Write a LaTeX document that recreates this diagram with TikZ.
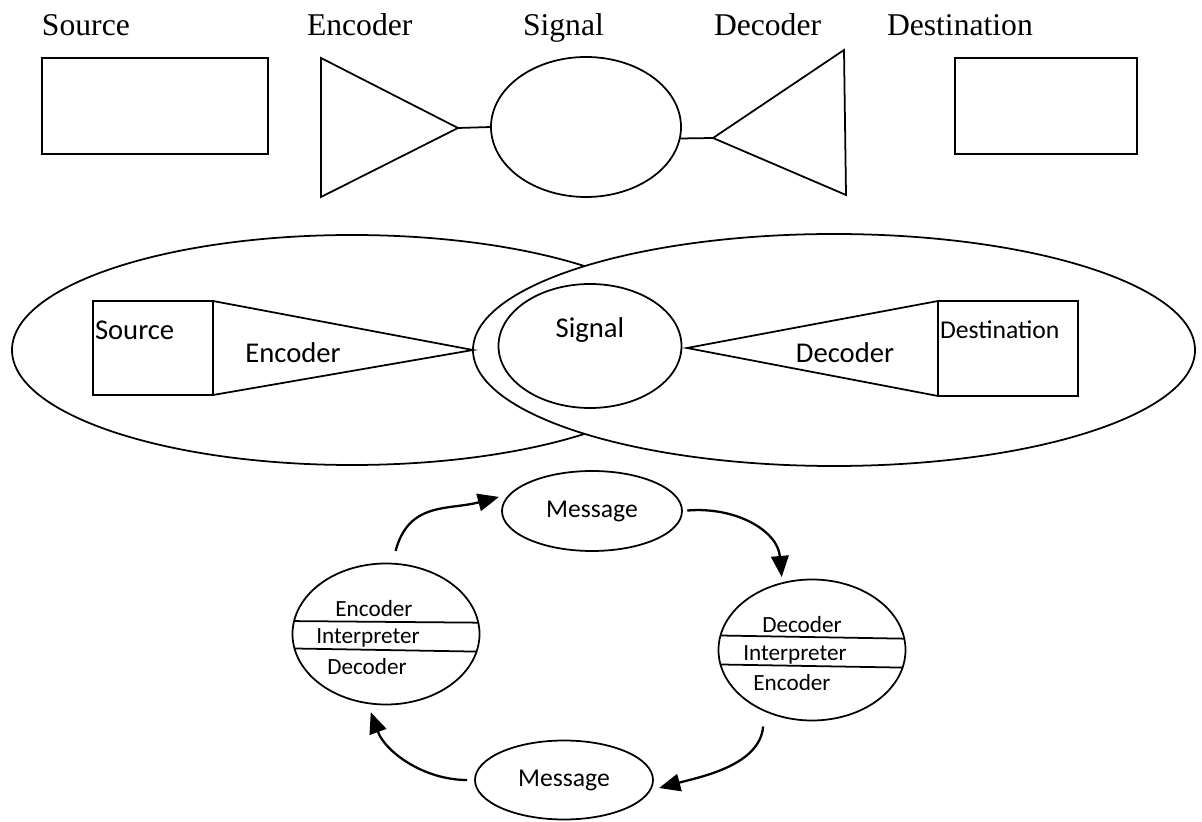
\documentclass[tikz,border=0pt]{standalone}
\usepackage{fontspec}
\setmainfont{Liberation Serif}
\newfontfamily\carlito{Carlito}
\usetikzlibrary{arrows.meta,shapes.geometric,calc}

\begin{document}
\begin{tikzpicture}[
  every node/.style={inner sep=0pt, outer sep=0pt},
  boxN/.style={rectangle, draw, line width=1pt},
  ellN/.style={ellipse, draw, line width=1pt},
  link/.style={line width=1pt, line join=miter},
  topL/.style={anchor=base west, font=\fontsize{18}{20}\selectfont},
  midL/.style={font=\carlito\fontsize{16.3}{18}\selectfont},
  smL/.style={font=\carlito\fontsize{14.6}{17}\selectfont},
  inL/.style={font=\carlito\fontsize{13.2}{15}\selectfont},
  arr/.style={line width=1.3pt, -{Triangle[length=12pt,width=10pt]}},
]
\useasboundingbox (0,0) rectangle (24.04,16.42);

% linear model
\node[topL] (tSrcL) at (0.84,15.70) {Source};
\node[topL] (tEncL) at (6.14,15.70) {Encoder};
\node[topL] (tSigL) at (10.46,15.70) {Signal};
\node[topL] (tDecL) at (14.28,15.70) {Decoder};
\node[topL] (tDstL) at (17.74,15.70) {Destination};
\node[boxN, minimum width=4.52cm, minimum height=1.92cm] (tSrc) at (3.10,14.30) {};
\node[ellN, minimum width=3.8cm, minimum height=2.8cm] (tSig) at (11.72,13.88) {};
\node[boxN, minimum width=3.64cm, minimum height=1.92cm] (tDst) at (20.92,14.30) {};
\coordinate (eT) at (6.42,15.26);
\coordinate (eB) at (6.42,12.48);
\coordinate (eA) at (9.16,13.86);
\coordinate (dA) at (14.26,13.66);
\coordinate (dT) at (16.88,15.42);
\coordinate (dB) at (16.92,12.52);
\draw[link] (eT) -- (eA) -- (eB) -- cycle;
\draw[link] (dA) -- (dT) -- (dB) -- cycle;
\draw[link] (eA) -- (tSig.west);
\draw[link] (tSig.-7) -- (dA);

% overlapping fields of experience
\node[ellN, minimum width=13.6cm, minimum height=4.6cm] (fSnd) at (7.04,9.42) {};
\node[ellN, fill=white, minimum width=14.44cm, minimum height=4.64cm] (fRcv) at (16.68,9.42) {};
\node[boxN, minimum width=2.4cm, minimum height=1.88cm] (mSrc) at (3.06,9.46) {};
\node[ellN, minimum width=3.66cm, minimum height=2.48cm] (mSig) at (11.80,9.50) {};
\node[boxN, minimum width=2.8cm, minimum height=1.9cm] (mDst) at (20.16,9.45) {};
\coordinate (mdA) at (13.74,9.46);
\draw[link] (mSrc.north east) -- (fRcv.west) -- (mSrc.south east);
\draw[link] (mDst.north west) -- (mdA) -- (mDst.south west);
\node[midL, anchor=west] at (1.90,9.82) {Source};
\node[midL] at (5.86,9.36) {Encoder};
\node[midL] at (11.80,9.82) {Signal};
\node[midL] at (16.90,9.36) {Decoder};
\node[smL, anchor=west] at (18.80,9.82) {Destination};

% circular model
\node[ellN, smL, minimum width=3.6cm, minimum height=1.6cm] (msgT) at (11.84,6.20) {Message};
\node[ellN, smL, minimum width=3.56cm, minimum height=1.58cm] (msgB) at (11.28,0.82) {Message};
\node[ellN, minimum width=3.74cm, minimum height=2.82cm] (pL) at (7.72,3.74) {};
\node[ellN, minimum width=3.74cm, minimum height=2.82cm] (pR) at (16.24,3.42) {};
\draw[link] (pL.172) -- (pL.7);
\draw[link] (pL.189) -- (pL.-11);
\draw[link] (pR.171) -- (pR.7);
\draw[link] (pR.189) -- (pR.-11);
\node[inL] at (7.48,4.24) {Encoder};
\node[inL] at (7.36,3.66) {Interpreter};
\node[inL] at (7.34,3.08) {Decoder};
\node[inL] at (16.04,3.92) {Decoder};
\node[inL] at (15.90,3.32) {Interpreter};
\node[inL] at (15.84,2.76) {Encoder};
\draw[arr, shorten <=7.5pt, shorten >=7pt] (pL.85) to[out=75, in=195, looseness=1.2] (msgT.168);
\draw[arr, shorten <=3pt, shorten >=3.5pt] (msgT.east) to[out=5, in=95, looseness=1.1] (pR.114);
\draw[arr, shorten <=9pt, shorten >=5.5pt] (pR.232) to[out=-95, in=15] (msgB.-7);
\draw[arr, shorten <=4.5pt, shorten >=5.5pt] (msgB.west) to[out=180, in=-70] (pL.255);
\end{tikzpicture}
\end{document}
